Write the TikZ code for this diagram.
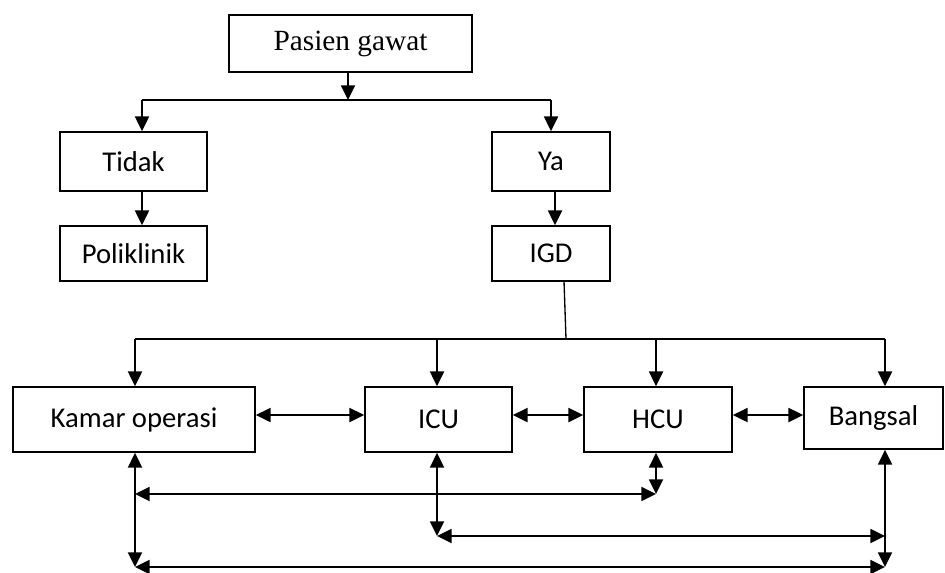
\documentclass[tikz,border=0pt]{standalone}
\usepackage{fontspec}
\setmainfont{Carlito}
\newfontfamily\timesf{Liberation Serif}
\usetikzlibrary{arrows.meta}
\begin{document}
\begin{tikzpicture}[x=0.75pt,y=-0.75pt,
  line width=1.4pt,
  tip/.style={-{Triangle[length=11pt,width=10.5pt]}},
  both/.style={{Triangle[length=11pt,width=10.5pt]}-{Triangle[length=11pt,width=10.5pt]}},
  box/.style={draw,line width=1.3pt,inner sep=0pt,font=\fontsize{21.5}{24}\selectfont},
]
\useasboundingbox (0,0) rectangle (945,572);
% nodes
\node[box,font=\timesf\fontsize{22}{26}\selectfont,minimum width={243*0.75pt},minimum height={57*0.75pt}] (pas) at (350.5,43.5) {Pasien gawat};
\node[box,minimum width={147*0.75pt},minimum height={59*0.75pt}] (tid) at (133.5,161.5) {Tidak};
\node[box,minimum width={147*0.75pt},minimum height={55*0.75pt}] (pol) at (133.5,253.5) {Poliklinik};
\node[box,minimum width={118*0.75pt},minimum height={59*0.75pt}] (ya) at (551,161.5) {Ya};
\node[box,minimum width={118*0.75pt},minimum height={55*0.75pt}] (igd) at (551,253.5) {IGD};
\node[box,minimum width={242*0.75pt},minimum height={65*0.75pt}] (kam) at (134,419.5) {Kamar operasi};
\node[box,minimum width={147*0.75pt},minimum height={65*0.75pt}] (icu) at (438.5,419.5) {ICU};
\node[box,minimum width={148*0.75pt},minimum height={65*0.75pt}] (hcu) at (658,419.5) {HCU};
\node[box,minimum width={139*0.75pt},minimum height={62*0.75pt}] (ban) at (873.5,418) {Bangsal};
% top bar
\coordinate (tl) at (142,100);
\coordinate (tr) at (551,100);
\coordinate (pm) at (348,100);
\draw (tl) -- (tr);
\draw[tip] (pas.south -| pm) -- (pm);
\draw[tip] (tl) -- (tl |- tid.north);
\draw[tip] (tr) -- (tr |- ya.north);
\draw[tip] (tid.south -| tl) -- (pol.north -| tl);
\coordinate (yx) at (555,0);
\draw[tip] (ya.south -| yx) -- (igd.north -| yx);
% IGD bus
\coordinate (ig) at (564,281);
\coordinate (bus) at (566,339);
\coordinate (xK) at (135,339);
\coordinate (xI) at (437,339);
\coordinate (xH) at (656,339);
\coordinate (xB) at (885,339);
\draw[line width=1pt] (ig) -- (bus);
\draw (xK) -- (xB);
\draw[tip] (xK) -- (xK |- kam.north);
\draw[tip] (xI) -- (xI |- icu.north);
\draw[tip] (xH) -- (xH |- hcu.north);
\draw[tip] (xB) -- (xB |- ban.north);
% horizontal links
\coordinate (hy) at (0,415);
\draw[both] (kam.east |- hy) -- (icu.west |- hy);
\draw[both] (icu.east |- hy) -- (hcu.west |- hy);
\draw[both] (hcu.east |- hy) -- (ban.west |- hy);
% bottom network
\coordinate (k2) at (135,494);
\coordinate (h2) at (656,494);
\coordinate (i3) at (437,536);
\coordinate (b3) at (885,536);
\coordinate (k4) at (135,567);
\coordinate (b4) at (885,567);
\draw[both] (kam.south -| k4) -- (k4);
\draw[both] (icu.south -| i3) -- (i3);
\draw[both] (hcu.south -| h2) -- (h2);
\draw[both] (ban.south -| b4) -- (b4);
\draw[both] (k2) -- (h2);
\draw[both] (i3) -- (b3);
\draw[both] (k4) -- (b4);
\end{tikzpicture}
\end{document}
